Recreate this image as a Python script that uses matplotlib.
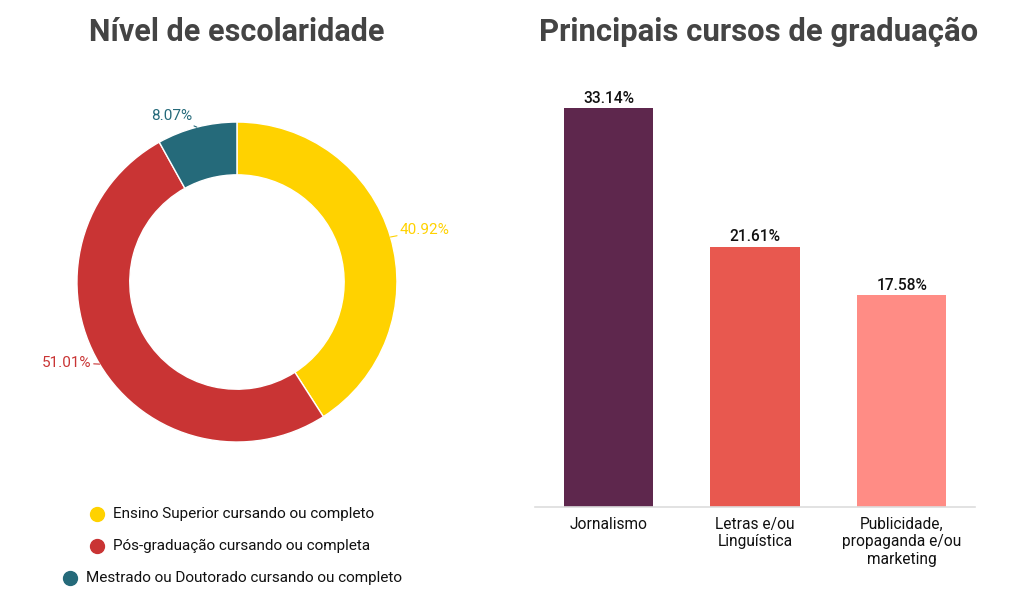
import numpy as np
import matplotlib.pyplot as plt
from matplotlib.lines import Line2D

plt.rcParams['font.family'] = ['Roboto', 'DejaVu Sans']

# dados - escolaridade
niveis = ['Ensino Superior cursando ou completo',
          'Pós-graduação cursando ou completa',
          'Mestrado ou Doutorado cursando ou completo']
niveis_pct = [40.92, 51.01, 8.07]
cores_nivel = ['#FFD200', '#C93434', '#256A7A']

# dados - cursos
cursos = ['Jornalismo', 'Letras e/ou\nLinguística', 'Publicidade,\npropaganda e/ou\nmarketing']
cursos_pct = [33.14, 21.61, 17.58]
cores_curso = ['#5E274D', '#E8584F', '#FF8C85']

fig = plt.figure(figsize=(10.24, 6.09), dpi=100)

# --- donut
ax1 = fig.add_axes([0.0361, 0.2085, 0.3906, 0.6568])
wedges, _ = ax1.pie(niveis_pct, colors=cores_nivel, startangle=90, counterclock=False,
                    wedgeprops=dict(width=0.33, edgecolor='white', linewidth=1))
ax1.set_xlim(-1.25, 1.25)
ax1.set_ylim(-1.25, 1.25)
ax1.set_aspect('equal')

for w, v, c in zip(wedges, niveis_pct, cores_nivel):
    ang = np.deg2rad((w.theta1 + w.theta2) / 2)
    x, y = np.cos(ang), np.sin(ang)
    ha = 'left' if x > 0 else 'right'
    ax1.annotate(f'{v:.2f}%', xy=(x, y), xytext=(1.04 * x + 0.02 * np.sign(x), 1.04 * y + 0.03),
                 color=c, fontsize=11, ha=ha, va='center',
                 arrowprops=dict(arrowstyle='-', color=c, lw=0.8, shrinkA=0, shrinkB=0))

fig.text(237 / 1024, 1 - 32 / 609, 'Nível de escolaridade', ha='center', va='center',
         fontsize=22, fontweight='bold', color='#444444')

# legenda
leg_y = [514, 546, 578]
leg_x = [97, 97, 70]
for lab, c, lx, ly in zip(niveis, cores_nivel, leg_x, leg_y):
    fig.add_artist(Line2D([lx / 1024], [1 - ly / 609], marker='o', markersize=10,
                          color=c, linestyle='none'))
    fig.text((lx + 16) / 1024, 1 - ly / 609, lab, ha='left', va='center',
             fontsize=11, color='#111111')

# --- barras
ax2 = fig.add_axes([0.5225, 0.1675, 0.4297, 0.692])
pos = np.arange(len(cursos))
bars = ax2.bar(pos, cursos_pct, width=0.61, color=cores_curso)
ax2.set_xlim(-0.5, 2.5)
ax2.set_ylim(0, 35)
for b, v in zip(bars, cursos_pct):
    ax2.text(b.get_x() + b.get_width() / 2, v + 0.2, f'{v:.2f}%', ha='center',
             va='bottom', fontsize=11.2, fontweight='medium', color='#111111')
ax2.set_xticks(pos)
ax2.set_xticklabels(cursos, fontsize=11.2, color='#111111', linespacing=1.2)
ax2.tick_params(axis='x', length=0, pad=7)
ax2.set_yticks([])
for s in ['top', 'right', 'left']:
    ax2.spines[s].set_visible(False)
ax2.spines['bottom'].set_color('#DDDDDD')
ax2.spines['bottom'].set_linewidth(1.2)

fig.text(759 / 1024, 1 - 32 / 609, 'Principais cursos de graduação', ha='center',
         va='center', fontsize=22.4, fontweight='bold', color='#444444')

fig.savefig('out.png', dpi=100, facecolor='white')
